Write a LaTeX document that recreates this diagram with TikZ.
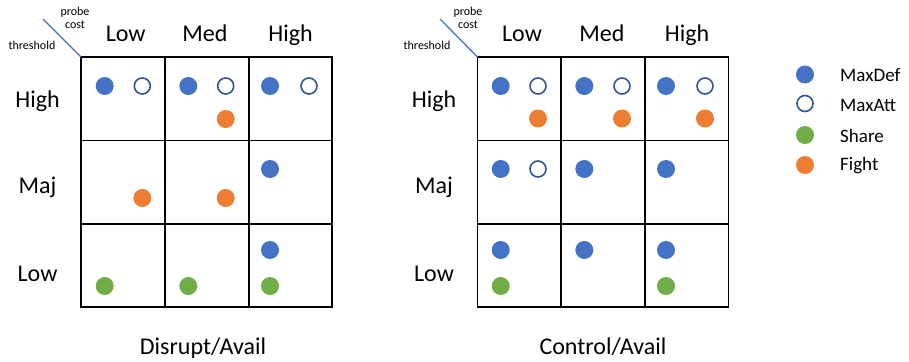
\documentclass[tikz,border=0pt]{standalone}
\usepackage{fontspec}
\setmainfont{Carlito}
\definecolor{cblue}{HTML}{4472C4}
\definecolor{cdblue}{HTML}{2F5597}
\definecolor{corange}{HTML}{ED7D31}
\definecolor{cgreen}{HTML}{70AD47}
\tikzset{
  dot/.style={circle,inner sep=0pt,minimum size=18pt},
  def/.style={dot,fill=cblue},
  att/.style={circle,inner sep=0pt,minimum size=16pt,draw=cdblue,line width=1.6pt,fill=white},
  shr/.style={dot,fill=cgreen},
  fgt/.style={dot,fill=corange},
  gridline/.style={line width=1.3pt,black},
  big/.style={inner sep=0pt,anchor=base,font=\fontsize{24}{28}\selectfont},
  small/.style={inner sep=0pt,font=\fontsize{12}{14}\selectfont},
  leg/.style={inner sep=0pt,anchor=west,font=\fontsize{19}{22}\selectfont},
  diag/.style={cblue,line width=1.3pt}
}
\begin{document}
\begin{tikzpicture}[x=1pt,y=-1pt]
\useasboundingbox (0,0) rectangle (909,361);
% ---------- left grid ----------
\coordinate (LA) at (81,57);
\coordinate (LB) at (332,307);
\draw[gridline] (LA) rectangle (LB);
\draw[gridline] (165,57) -- (165,307);
\draw[gridline] (249,57) -- (249,307);
\draw[gridline] (81,140.5) -- (332,140.5);
\draw[gridline] (81,224) -- (332,224);
\coordinate (Ld) at (43,19);
\draw[diag] (Ld) -- (LA);
\node[small] (lp) at (75,12) {probe};
\node[small] (lc) at (75,25) {cost};
\node[small] (lt) at (32,45) {threshold};
\node[big] (lh1) at (125.7,41.5) {Low};
\node[big] (lh2) at (205,41.5) {Med};
\node[big] (lh3) at (290.5,41.5) {High};
\node[big] (lr1) at (37.5,107) {High};
\node[big] (lr2) at (37.5,193) {Maj};
\node[big] (lr3) at (37.5,281) {Low};
\node[big] (ltitle) at (203,354) {Disrupt/Avail};
% dots left
\node[def] (l1) at (104.7,86) {};
\node[att] (l2) at (142.3,86) {};
\node[def] (l3) at (188.3,86) {};
\node[att] (l4) at (225.7,86) {};
\node[fgt] (l5) at (225.7,119) {};
\node[def] (l6) at (270,86) {};
\node[att] (l7) at (309,86) {};
\node[fgt] (l8) at (142.3,198) {};
\node[fgt] (l9) at (225.7,198) {};
\node[def] (l10) at (270,169) {};
\node[shr] (l11) at (104.7,286) {};
\node[shr] (l12) at (188.3,286) {};
\node[def] (l13) at (270,250) {};
\node[shr] (l14) at (270,286) {};
% ---------- right grid ----------
\coordinate (RA) at (477.5,57);
\coordinate (RB) at (728.5,307);
\draw[gridline] (RA) rectangle (RB);
\draw[gridline] (561,57) -- (561,307);
\draw[gridline] (645,57) -- (645,307);
\draw[gridline] (477.5,140.5) -- (728.5,140.5);
\draw[gridline] (477.5,224) -- (728.5,224);
\coordinate (Rd) at (440,19);
\draw[diag] (Rd) -- (RA);
\node[small] (rp) at (468,12) {probe};
\node[small] (rc) at (468,25) {cost};
\node[small] (rt) at (427,45) {threshold};
\node[big] (rh1) at (522,41.5) {Low};
\node[big] (rh2) at (602,41.5) {Med};
\node[big] (rh3) at (687,41.5) {High};
\node[big] (rr1) at (434,107) {High};
\node[big] (rr2) at (434,193) {Maj};
\node[big] (rr3) at (434,281) {Low};
\node[big] (rtitle) at (603,354) {Control/Avail};
% dots right
\node[def] (r1) at (500.7,86) {};
\node[att] (r2) at (538,86) {};
\node[fgt] (r3) at (538,118.5) {};
\node[def] (r4) at (584.3,86) {};
\node[att] (r5) at (622,86) {};
\node[fgt] (r6) at (622,118.5) {};
\node[def] (r7) at (666,86) {};
\node[att] (r8) at (705,86) {};
\node[fgt] (r9) at (705,118.5) {};
\node[def] (r10) at (500.7,169) {};
\node[att] (r11) at (538,169) {};
\node[def] (r12) at (584.3,169) {};
\node[def] (r13) at (666,169) {};
\node[def] (r14) at (500.7,250) {};
\node[shr] (r15) at (500.7,286) {};
\node[def] (r16) at (584.3,250) {};
\node[def] (r17) at (666,250) {};
\node[shr] (r18) at (666,286) {};
% ---------- legend ----------
\node[def] (g1) at (805,74.5) {};
\node[att] (g2) at (805,103.5) {};
\node[shr] (g3) at (805,135) {};
\node[fgt] (g4) at (805,165) {};
\node[leg] (gt1) at (840,75.5) {MaxDef};
\node[leg] (gt2) at (840,105) {MaxAtt};
\node[leg] (gt3) at (840,136) {Share};
\node[leg] (gt4) at (840,166) {Fight};
\end{tikzpicture}
\end{document}
